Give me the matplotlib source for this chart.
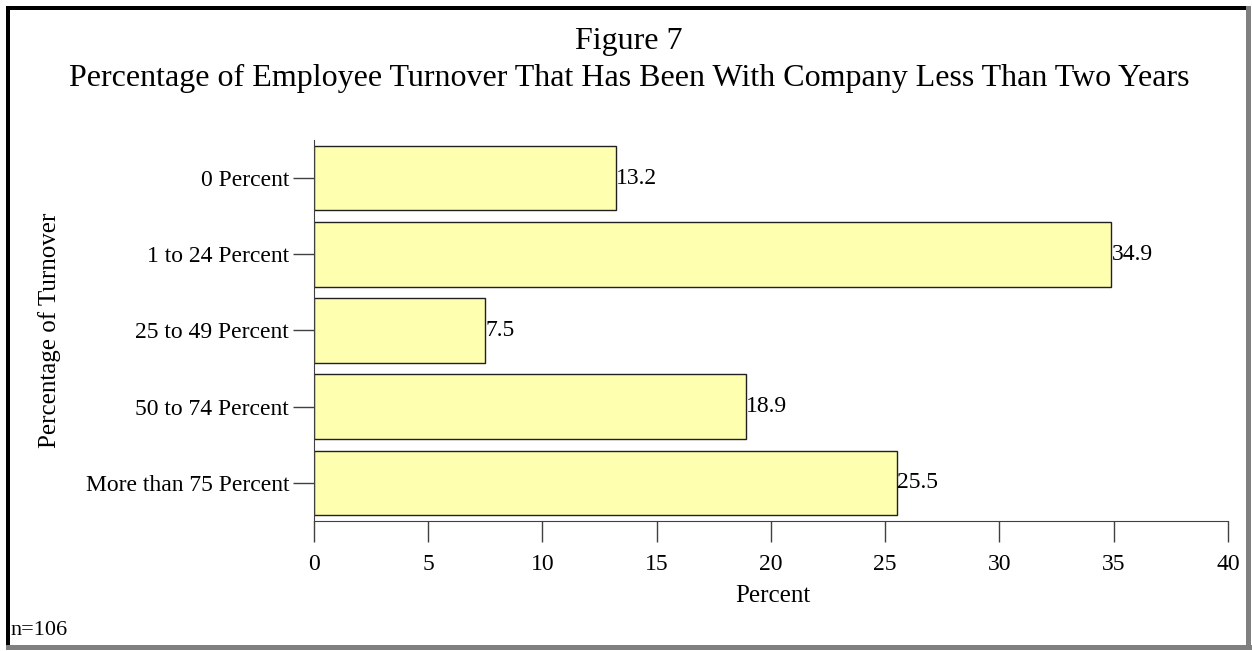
import matplotlib.pyplot as plt
from matplotlib.patches import Rectangle

categories = ["0 Percent", "1 to 24 Percent", "25 to 49 Percent",
              "50 to 74 Percent", "More than 75 Percent"]
percents = [13.2, 34.9, 7.5, 18.9, 25.5]
x_ticks = [0, 5, 10, 15, 20, 25, 30, 35, 40]

plt.rcParams["font.family"] = ["Liberation Serif", "DejaVu Serif"]

fig = plt.figure(figsize=(12.52, 6.51), dpi=100)
ax = fig.add_axes([0.2508, 0.1997, 0.7300, 0.5853])

pos = list(range(len(categories)))
ax.barh(pos, percents, height=0.85, color="#ffffb0", edgecolor="#202020",
        linewidth=1.0)
for y, v in zip(pos, percents):
    ax.text(v, y, f"{v:.1f}", ha="left", va="center", fontsize=17)

ax.set_xlim(0, 40)
ax.set_ylim(4.5, -0.5)
ax.set_xticks(x_ticks)
ax.set_yticks(pos)
ax.set_yticklabels(categories)
ax.tick_params(axis="both", labelsize=17, length=15, width=1.0,
               color="#404040", direction="out")
ax.tick_params(axis="x", pad=9)
ax.tick_params(axis="y", pad=3)
for side in ("top", "right"):
    ax.spines[side].set_visible(False)
for side in ("left", "bottom"):
    ax.spines[side].set_color("#404040")

ax.set_xlabel("Percent", fontsize=18)
ax.xaxis.set_label_coords(0.5024, -0.197)
ax.xaxis.label.set_va("center")
ax.set_ylabel("Percentage of Turnover", fontsize=18)
ax.yaxis.set_label_coords(-0.289, 0.5)
ax.yaxis.label.set_va("center")

fig.text(0.5024, 0.937, "Figure 7", ha="center", va="center", fontsize=23)
fig.text(0.5024, 0.880,
         "Percentage of Employee Turnover That Has Been With Company Less Than Two Years",
         ha="center", va="center", fontsize=23)
fig.text(0.008, 0.032, "n=106", ha="left", va="center", fontsize=16)

# frame around the whole figure: dark on top/left, grey on bottom/right
W, H = 1252, 651
def px_rect(x, y, w, h, c):
    fig.patches.append(Rectangle((x / W, 1 - (y + h) / H), w / W, h / H,
                                 transform=fig.transFigure, color=c,
                                 linewidth=0))
px_rect(6, 6, 1245, 4, "black")
px_rect(6, 6, 4, 644, "black")
px_rect(6, 645, 1246, 5, "#808080")
px_rect(1246, 6, 5, 644, "#808080")

fig.savefig("out.png", dpi=100)
